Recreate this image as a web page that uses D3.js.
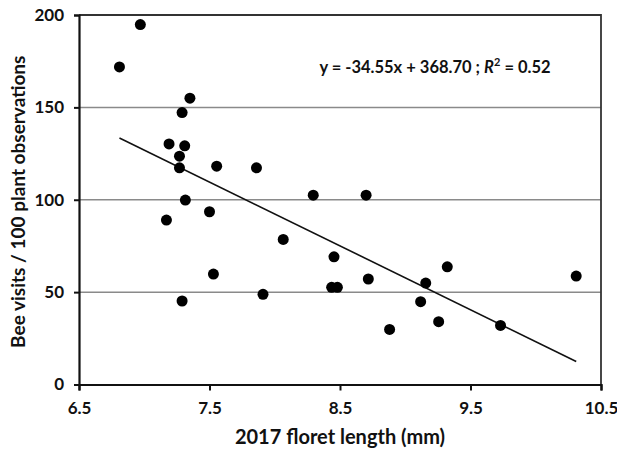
<!DOCTYPE html>
<html>
<head>
<meta charset="utf-8">
<script src="https://cdn.jsdelivr.net/npm/d3@7"></script>
<style>
  body { margin: 0; background: #fff; }
  text { font-family: Lato, "Open Sans", sans-serif; font-weight: bold; fill: #111; }
</style>
</head>
<body>
<div id="chart"></div>
<script>
// floret length (mm) vs bee visits per 100 plant observations
var floretLength = [6.81, 6.97, 7.35, 7.29, 7.19, 7.31, 7.27, 7.27, 7.555, 7.86,
                    8.295, 8.70, 7.315, 7.50, 7.17, 8.065, 7.53, 7.29, 7.91, 8.454,
                    8.436, 8.48, 8.717, 9.322, 9.157, 9.118, 9.256, 8.88, 9.73, 10.31];
var beeVisits = [171.9, 194.8, 155, 147.2, 130.2, 129.2, 123.6, 117.3, 118.2, 117.3,
                 102.5, 102.5, 99.8, 93.5, 89, 78.5, 59.8, 45.2, 48.8, 69.1,
                 52.6, 52.6, 57.1, 63.7, 54.9, 44.8, 34, 29.8, 32, 58.7];
var xTicks = [6.5, 7.5, 8.5, 9.5, 10.5];
var yTicks = [0, 50, 100, 150, 200];
var slope = -34.55, intercept = 368.70;

var width = 617, height = 449;
var margin = {top: 15, right: 16, bottom: 64.5, left: 79};

var svg = d3.select("#chart").append("svg")
    .attr("width", width)
    .attr("height", height);

var x = d3.scaleLinear().domain([6.5, 10.5]).range([margin.left, width - margin.right]);
var y = d3.scaleLinear().domain([0, 200]).range([height - margin.bottom, margin.top]);

// gridlines
svg.append("g").selectAll("line")
    .data(yTicks.filter(function(d) { return d > 0 && d < 200; }))
    .enter().append("line")
    .attr("x1", x(6.5)).attr("x2", x(10.5))
    .attr("y1", function(d) { return y(d); })
    .attr("y2", function(d) { return y(d); })
    .attr("stroke", "#8a8a8a")
    .attr("stroke-width", 1.5);

// top and right border
svg.append("path")
    .attr("d", "M" + x(6.5) + "," + y(200) + "H" + x(10.5) + "V" + y(0))
    .attr("fill", "none")
    .attr("stroke", "#333")
    .attr("stroke-width", 1.8);

// axes
var xAxis = svg.append("g")
    .attr("transform", "translate(0," + y(0) + ")")
    .call(d3.axisBottom(x).tickValues(xTicks).tickFormat(d3.format(".1f")).tickSizeOuter(0).tickSize(6));
var yAxis = svg.append("g")
    .attr("transform", "translate(" + x(6.5) + ",0)")
    .call(d3.axisLeft(y).tickValues(yTicks).tickSizeOuter(0).tickSize(5));

[xAxis, yAxis].forEach(function(a) {
  a.select(".domain").attr("stroke", "#111").attr("stroke-width", 2.2);
  a.selectAll(".tick line").attr("stroke", "#111").attr("stroke-width", 2);
  a.selectAll(".tick text").style("font-size", "17px").attr("fill", "#111");
});
xAxis.selectAll(".tick text").attr("dy", "1.2em");
yAxis.selectAll(".tick text").attr("x", -15);

// regression line
var x0 = d3.min(floretLength), x1 = d3.max(floretLength);
svg.append("line")
    .attr("x1", x(x0)).attr("y1", y(slope * x0 + intercept))
    .attr("x2", x(x1)).attr("y2", y(slope * x1 + intercept))
    .attr("stroke", "#111")
    .attr("stroke-width", 1.6);

// points
svg.append("g").selectAll("circle")
    .data(floretLength)
    .enter().append("circle")
    .attr("cx", function(d) { return x(d); })
    .attr("cy", function(d, i) { return y(beeVisits[i]); })
    .attr("r", 5.5)
    .attr("fill", "#000");

// equation
var eq = svg.append("text")
    .attr("x", 435).attr("y", 73)
    .attr("text-anchor", "middle")
    .style("font-size", "16.5px");
eq.append("tspan").text("y = -34.55x + 368.70 ; ");
eq.append("tspan").style("font-style", "italic").text("R");
eq.append("tspan").attr("dy", -7).style("font-size", "11px").text("2");
eq.append("tspan").attr("dy", 7).text(" = 0.52");

// axis titles
svg.append("text")
    .attr("x", (x(6.5) + x(10.5)) / 2).attr("y", 444)
    .attr("text-anchor", "middle")
    .style("font-size", "20px")
    .text("2017 floret length (mm)");

svg.append("text")
    .attr("transform", "translate(25," + (y(100) + 2) + ") rotate(-90)")
    .attr("text-anchor", "middle")
    .style("font-size", "19px")
    .text("Bee visits / 100 plant observations");
</script>
</body>
</html>
